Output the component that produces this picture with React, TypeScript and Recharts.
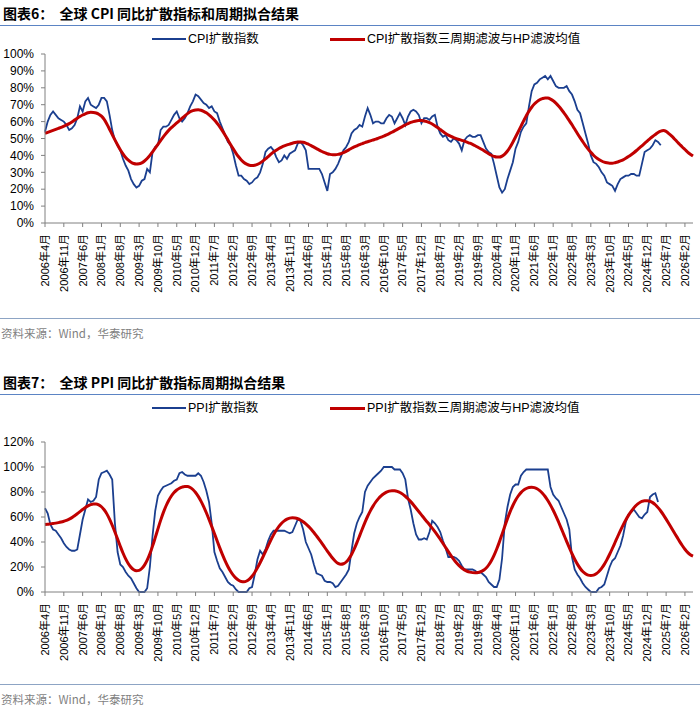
import React from "react"
import { LineChart, Line, XAxis, YAxis } from "recharts"

// monthly categories 2006-04 .. 2026-05 (242 months)
const START_YEAR = 2006
const START_MONTH = 4
const MONTH_COUNT = 242
const months: string[] = Array.from({ length: MONTH_COUNT }, (_, i) => {
  const k = START_MONTH - 1 + i
  return `${START_YEAR + Math.floor(k / 12)}年${(k % 12) + 1}月`
})

// 全球 CPI 同比扩散指数 (%), 2006-04 .. 2025-05
const cpiIndex = [
  54, 60, 64, 66, 64, 62, 61, 60, 58, 55,
  56, 58, 62, 69, 66, 72, 74, 70, 69, 68,
  70, 74, 74, 72, 64, 55, 49, 46, 43, 38,
  34, 31, 26, 23, 21, 22, 25, 26, 32, 30,
  42, 45, 46, 55, 57, 57, 58, 61, 64, 66,
  62, 60, 62, 65, 69, 72, 76, 75, 73, 71,
  70, 68, 69, 66, 65, 60, 56, 52, 48, 46,
  41, 34, 28, 28, 26, 25, 23, 24, 26, 27,
  30, 35, 42, 44, 45, 43, 39, 36, 37, 40,
  38, 41, 42, 43, 47, 48, 46, 43, 32, 32,
  32, 32, 32, 29, 24, 19, 29, 30, 32, 35,
  39, 43, 45, 48, 53, 55, 56, 58, 57, 63,
  68, 64, 59, 60, 60, 59, 59, 62, 64, 63,
  59, 62, 65, 62, 58, 63, 66, 67, 66, 64,
  59, 62, 62, 61, 63, 64, 57, 53, 51, 52,
  49, 48, 50, 49, 47, 43, 49, 51, 52, 51,
  51, 52, 52, 48, 44, 42, 41, 35, 28, 21,
  18, 20, 26, 31, 36, 44, 48, 54, 57, 59,
  69, 78, 82, 83, 85, 86, 87, 85, 87, 84,
  81, 80, 80, 80, 81, 78, 76, 72, 67, 65,
  59, 53, 47, 40, 36, 35, 33, 30, 28, 24,
  23, 22, 19, 23, 26, 27, 28, 28, 29, 29,
  28, 28, 35, 42, 43, 44, 46, 49, 48, 46,
]

// CPI 扩散指数三周期滤波与HP滤波均值 (%)
const cpiFit = [
  53.0, 53.6, 54.2, 54.8, 55.4, 56.0, 56.6, 57.3, 58.0, 58.8,
  59.8, 60.9, 62.0, 63.0, 63.9, 64.6, 65.2, 65.5, 65.4, 65.1,
  64.4, 63.2, 61.3, 58.6, 55.5, 52.3, 49.2, 46.2, 43.4, 40.9,
  38.8, 37.2, 36.0, 35.2, 34.9, 35.0, 35.6, 36.7, 38.2, 40.0,
  42.1, 44.3, 46.5, 48.8, 51.0, 53.0, 54.8, 56.4, 57.8, 59.2,
  60.6, 62.0, 63.4, 64.7, 65.8, 66.5, 66.9, 67.0, 66.7, 66.1,
  65.2, 64.0, 62.6, 60.9, 59.0, 56.9, 54.5, 51.9, 49.2, 46.5,
  43.9, 41.4, 39.2, 37.3, 35.8, 34.8, 34.2, 34.0, 34.2, 34.7,
  35.5, 36.6, 37.9, 39.3, 40.7, 42.0, 43.1, 44.1, 44.9, 45.6,
  46.2, 46.7, 47.2, 47.6, 47.9, 48.0, 47.8, 47.3, 46.6, 45.8,
  44.9, 44.0, 43.1, 42.3, 41.6, 41.0, 40.6, 40.4, 40.4, 40.6,
  41.0, 41.6, 42.4, 43.3, 44.2, 45.0, 45.7, 46.4, 47.0, 47.6,
  48.1, 48.6, 49.1, 49.6, 50.2, 50.8, 51.4, 52.1, 52.9, 53.7,
  54.5, 55.4, 56.3, 57.2, 58.0, 58.8, 59.5, 60.0, 60.4, 60.6,
  60.6, 60.4, 60.0, 59.4, 58.6, 57.6, 56.5, 55.3, 54.1, 53.0,
  52.0, 51.2, 50.5, 49.9, 49.4, 48.9, 48.4, 47.8, 47.2, 46.5,
  45.7, 44.8, 43.9, 43.0, 42.0, 41.0, 40.1, 39.4, 39.0, 39.0,
  39.6, 40.8, 42.6, 45.0, 47.8, 50.9, 54.0, 57.2, 60.4, 63.5,
  66.2, 68.5, 70.4, 71.8, 72.9, 73.6, 74.0, 73.9, 73.3, 72.3,
  70.9, 69.2, 67.3, 65.2, 63.0, 60.6, 58.1, 55.6, 53.0, 50.5,
  48.1, 45.8, 43.7, 41.8, 40.1, 38.7, 37.6, 36.7, 36.0, 35.6,
  35.4, 35.4, 35.7, 36.1, 36.7, 37.4, 38.3, 39.3, 40.4, 41.6,
  42.9, 44.3, 45.7, 47.1, 48.5, 49.9, 51.2, 52.4, 53.6, 54.4,
  54.7, 54.2, 52.9, 51.5, 49.9, 48.2, 46.6, 45.0, 43.5, 42.0,
  40.7, 39.6,
]

// 全球 PPI 同比扩散指数 (%), 2006-04 .. 2025-04
const ppiIndex = [
  67, 63, 54, 50, 49, 46, 43, 39, 36, 34,
  33, 33, 34, 46, 58, 66, 74, 72, 73, 76,
  90, 95, 96, 97, 94, 90, 55, 32, 22, 20,
  16, 13, 11, 7, 3, 0, 0, 0, 3, 20,
  45, 65, 77, 81, 84, 85, 86, 87, 89, 90,
  95, 96, 94, 93, 93, 93, 93, 95, 93, 88,
  81, 72, 55, 32, 25, 19, 16, 12, 8, 6,
  5, 2, 0, 0, 0, 0, 3, 4, 14, 26,
  33, 30, 34, 41, 46, 49, 49, 49, 49, 49,
  48, 47, 48, 53, 58, 57, 50, 40, 35, 30,
  22, 15, 14, 13, 9, 8, 8, 7, 4, 5,
  8, 11, 14, 18, 33, 47, 55, 60, 64, 80,
  85, 88, 91, 93, 95, 97, 100, 100, 100, 100,
  98, 98, 98, 95, 90, 75, 66, 55, 46, 42,
  42, 43, 42, 48, 57, 55, 52, 48, 41, 35,
  28, 28, 28, 27, 25, 21, 18, 18, 18, 18,
  17, 15, 16, 14, 12, 8, 6, 4, 4, 10,
  27, 55, 68, 78, 84, 86, 86, 93, 96, 98,
  98, 98, 98, 98, 98, 98, 98, 98, 84, 78,
  75, 73, 68, 63, 58, 50, 28, 18, 14, 11,
  7, 4, 2, 0, 0, 0, 3, 4, 6, 13,
  20, 25, 27, 32, 37, 45, 56, 62, 64, 66,
  63, 60, 59, 62, 64, 76, 78, 79, 72,
]

// PPI 扩散指数三周期滤波与HP滤波均值 (%)
const ppiFit = [
  54.0, 54.2, 54.5, 54.8, 55.1, 55.5, 56.0, 56.6, 57.3, 58.3,
  59.5, 61.0, 62.6, 64.3, 66.0, 67.6, 68.9, 69.9, 70.4, 70.4,
  69.7, 68.2, 65.8, 62.5, 58.3, 53.4, 48.0, 42.3, 36.6, 31.2,
  26.5, 22.6, 19.7, 17.8, 17.0, 17.3, 18.8, 21.5, 25.5, 30.6,
  36.7, 43.5, 50.5, 57.3, 63.5, 68.8, 73.2, 76.8, 79.6, 81.6,
  83.0, 83.9, 84.4, 84.4, 83.6, 82.0, 79.6, 76.5, 72.7, 68.3,
  63.4, 58.1, 52.5, 46.8, 41.0, 35.3, 29.9, 24.9, 20.4, 16.6,
  13.5, 11.1, 9.4, 8.4, 8.2, 8.8, 10.3, 12.6, 15.6, 19.3,
  23.4, 27.8, 32.4, 37.0, 41.5, 45.7, 49.4, 52.5, 55.0, 56.9,
  58.3, 59.1, 59.4, 59.2, 58.6, 57.6, 56.2, 54.5, 52.5, 50.2,
  47.6, 44.8, 41.9, 38.9, 35.8, 32.7, 29.8, 27.0, 24.6, 22.9,
  22.2, 22.6, 24.0, 26.5, 30.0, 34.4, 39.5, 44.9, 50.4, 55.7,
  60.6, 64.9, 68.7, 72.0, 74.7, 76.9, 78.6, 79.9, 80.7, 81.1,
  81.0, 80.5, 79.6, 78.3, 76.6, 74.6, 72.3, 69.8, 67.1, 64.4,
  61.7, 59.0, 56.4, 53.8, 51.1, 48.3, 45.3, 42.2, 38.9, 35.6,
  32.3, 29.1, 26.1, 23.4, 21.1, 19.2, 17.7, 16.6, 15.9, 15.5,
  15.4, 15.6, 16.2, 17.3, 19.0, 21.6, 25.0, 29.3, 34.4, 40.1,
  46.3, 52.6, 58.7, 64.3, 69.2, 73.4, 76.8, 79.5, 81.5, 82.8,
  83.6, 83.8, 83.5, 82.6, 81.1, 79.0, 76.4, 73.2, 69.5, 65.4,
  60.9, 56.0, 50.9, 45.7, 40.5, 35.4, 30.6, 26.2, 22.3, 19.0,
  16.4, 14.6, 13.5, 13.2, 13.5, 14.6, 16.4, 18.9, 22.1, 25.9,
  30.2, 34.8, 39.6, 44.4, 49.1, 53.5, 57.6, 61.3, 64.5, 67.3,
  69.6, 71.3, 72.5, 73.1, 73.1, 72.6, 71.5, 69.8, 67.5, 64.8,
  61.7, 58.3, 54.8, 51.2, 47.6, 44.1, 40.5, 37.2, 34.2, 31.7,
  29.8, 28.7,
]

const cpiTicks = [0, 10, 20, 30, 40, 50, 60, 70, 80, 90, 100]
const ppiTicks = [0, 20, 40, 60, 80, 100, 120]

const BLUE = "#1b3f8f"
const RED = "#c00000"
const AXIS = "#808080"
const FONT = "'Liberation Sans', Arial, 'Noto Sans CJK SC', sans-serif"
const CJK = "'Noto Sans CJK SC', 'Liberation Sans', sans-serif"

const buildRows = (idx: number[], fit: number[]) =>
  months.map((m, i) => ({
    month: m,
    idx: i < idx.length ? idx[i] : null,
    fit: i < fit.length ? fit[i] : null,
  }))

const cpiRows = buildRows(cpiIndex, cpiFit)
const ppiRows = buildRows(ppiIndex, ppiFit)

const MonthTick = (props: any) => {
  const { x, y, payload } = props
  return (
    <g transform={`translate(${x},${y})`}>
      <text
        x={0}
        y={0}
        dx={-5}
        dy="0.35em"
        transform="rotate(-90)"
        textAnchor="end"
        fontSize={11}
        fill="#000"
        fontFamily={FONT}
      >
        {payload.value}
      </text>
    </g>
  )
}

function Panel({ rows, ticks, max, top, marginTop, plotHeight }: any) {
  return (
    <div style={{ position: "absolute", left: 0, top }}>
      <LineChart
        width={700}
        height={300}
        data={rows}
        margin={{ top: marginTop, right: 7, left: 0, bottom: 300 - marginTop - 70 - plotHeight }}
      >
        <XAxis
          dataKey="month"
          interval={6}
          tick={<MonthTick />}
          tickSize={4}
          tickMargin={2}
          height={70}
          stroke={AXIS}
          tickLine={{ stroke: AXIS }}
        />
        <YAxis
          domain={[0, max]}
          ticks={ticks}
          interval={0}
          tickFormatter={(v: number) => `${v}%`}
          width={45}
          tickSize={4}
          tickMargin={7}
          stroke={AXIS}
          tick={{ fill: "#000", fontSize: 12, fontFamily: FONT }}
        />
        <Line
          type="linear"
          dataKey="idx"
          stroke={BLUE}
          strokeWidth={1.8}
          dot={false}
          isAnimationActive={false}
        />
        <Line
          type="monotone"
          dataKey="fit"
          stroke={RED}
          strokeWidth={3}
          dot={false}
          isAnimationActive={false}
        />
      </LineChart>
    </div>
  )
}

function Header({ top, title, blueLabel, redLabel }: any) {
  return (
    <>
      <div
        style={{
          position: "absolute",
          left: 3,
          top: top,
          fontFamily: CJK,
          fontWeight: 700,
          fontSize: 14,
          lineHeight: "16px",
          color: "#000",
          whiteSpace: "pre",
        }}
      >
        {title}
      </div>
      <div style={{ position: "absolute", left: 0, top: top + 20, width: 700, height: 0, borderTop: "1.5px solid #5b84c4" }} />
      <div style={{ position: "absolute", left: 152, top: top + 33, width: 34, height: 2, background: BLUE }} />
      <div style={{ position: "absolute", left: 188, top: top + 26, fontFamily: FONT, fontSize: 12.5, lineHeight: "16px", whiteSpace: "pre" }}>
        {blueLabel}
      </div>
      <div style={{ position: "absolute", left: 330, top: top + 32.5, width: 35, height: 3, background: RED }} />
      <div style={{ position: "absolute", left: 367, top: top + 26, fontFamily: FONT, fontSize: 12.5, lineHeight: "16px", whiteSpace: "pre" }}>
        {redLabel}
      </div>
    </>
  )
}

function Source({ top }: any) {
  return (
    <>
      <div style={{ position: "absolute", left: 0, top, width: 700, height: 0, borderTop: "1px solid #8da4c4" }} />
      <div
        style={{
          position: "absolute",
          left: 1,
          top: top + 8,
          fontFamily: CJK,
          fontSize: 11.5,
          lineHeight: "14px",
          color: "#7f7f7f",
        }}
      >
        资料来源：Wind，华泰研究
      </div>
    </>
  )
}

export default function App() {
  return (
    <div style={{ position: "absolute", left: 0, top: 0, width: 700, height: 714, background: "#fff", overflow: "hidden" }}>
      <Header
        top={5}
        title={"图表6：  全球 CPI 同比扩散指标和周期拟合结果"}
        blueLabel="CPI扩散指数"
        redLabel="CPI扩散指数三周期滤波与HP滤波均值"
      />
      <Panel rows={cpiRows} ticks={cpiTicks} max={100} top={0} marginTop={54} plotHeight={169} />
      <Source top={318} />
      <Header
        top={374}
        title={"图表7：  全球 PPI 同比扩散指标周期拟合结果"}
        blueLabel="PPI扩散指数"
        redLabel="PPI扩散指数三周期滤波与HP滤波均值"
      />
      <Panel rows={ppiRows} ticks={ppiTicks} max={120} top={370} marginTop={72} plotHeight={150} />
      <Source top={684} />
    </div>
  )
}
